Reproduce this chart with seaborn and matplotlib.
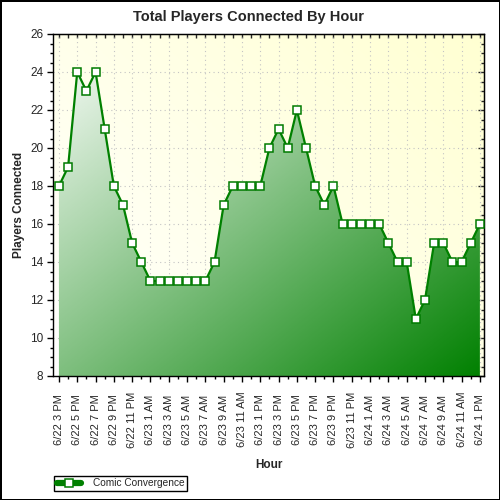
import matplotlib
matplotlib.use("Agg")
import matplotlib.pyplot as plt
import numpy as np
import pandas as pd
import seaborn as sns
from matplotlib.colors import LinearSegmentedColormap
from matplotlib.ticker import NullFormatter

# hourly player counts, 6/22 3 PM .. 6/24 1 PM
players = [18, 19, 24, 23, 24, 21, 18, 17, 15, 14,
           13, 13, 13, 13, 13, 13, 13, 14, 17, 18,
           18, 18, 18, 20, 21, 20, 22, 20, 18, 17,
           18, 16, 16, 16, 16, 16, 15, 14, 14, 11,
           12, 15, 15, 14, 14, 15, 16]

# one label every 2 hours
tick_labels = ["6/22 3 PM", "6/22 5 PM", "6/22 7 PM", "6/22 9 PM", "6/22 11 PM",
               "6/23 1 AM", "6/23 3 AM", "6/23 5 AM", "6/23 7 AM", "6/23 9 AM",
               "6/23 11 AM", "6/23 1 PM", "6/23 3 PM", "6/23 5 PM", "6/23 7 PM",
               "6/23 9 PM", "6/23 11 PM", "6/24 1 AM", "6/24 3 AM", "6/24 5 AM",
               "6/24 7 AM", "6/24 9 AM", "6/24 11 AM", "6/24 1 PM"]

series_name = "Comic Convergence"

df = pd.DataFrame({"hour": np.arange(len(players)), "players": players})

sns.set_style("ticks")
plt.rcParams["font.family"] = ["Liberation Sans", "DejaVu Sans"]

fig = plt.figure(figsize=(5, 5), dpi=100)
fig.patch.set_edgecolor("black")
fig.patch.set_linewidth(2)
ax = fig.add_axes([0.106, 0.248, 0.862, 0.684])

xlim = (-0.65, len(players) - 1 + 0.45)
ylim = (8, 26)
ax.set_xlim(xlim)
ax.set_ylim(ylim)

# plot area background: white -> pale yellow
gx, gy = np.meshgrid(np.linspace(0, 1, 300), np.linspace(0, 1, 300))
bg_cmap = LinearSegmentedColormap.from_list("bg", ["#ffffff", "#ffffd2"])
ax.imshow(0.55 * gx + 0.45 * (1 - gy), cmap=bg_cmap, vmin=0, vmax=1,
          extent=(*xlim, *ylim), aspect="auto", zorder=0)

# area under the line with a diagonal gradient
fill_cmap = LinearSegmentedColormap.from_list("fill", ["#ffffff", "#008000"])
poly = ax.fill_between(df["hour"], df["players"], ylim[0],
                       facecolor="none", edgecolor="none")
im = ax.imshow(0.5 * gx + 0.5 * gy, cmap=fill_cmap, vmin=0, vmax=1,
               extent=(*xlim, *ylim), aspect="auto", zorder=1)
im.set_clip_path(poly.get_paths()[0], transform=ax.transData)

sns.lineplot(data=df, x="hour", y="players", ax=ax, color="#008000",
             linewidth=1.6, marker="s", markersize=5.6,
             markerfacecolor="white", markeredgecolor="#007a00",
             markeredgewidth=1.1, label=series_name, legend=False, zorder=3)

ax.set_xlim(xlim)
ax.set_ylim(ylim)

# grid
ax.set_axisbelow(True)
ax.grid(True, which="major", color="#c4c4c4", linestyle=(0, (1, 3)), linewidth=0.8)

# ticks
ax.set_xticks(np.arange(0, len(players), 2), tick_labels)
ax.set_xticks(np.arange(0, len(players), 1), minor=True)
ax.set_yticks(np.arange(8, 27, 2))
ax.set_yticks(np.arange(8, 26.01, 0.5), minor=True)
ax.tick_params(which="major", direction="out", length=4, width=1, color="black")
ax.tick_params(which="minor", direction="out", length=2, width=1, color="black")
ax.tick_params(axis="y", labelsize=8.5, pad=3)
ax.tick_params(axis="x", labelsize=8, labelrotation=90, pad=27.4)
for lbl in ax.get_xticklabels():
    lbl.set_verticalalignment("center")

top = ax.secondary_xaxis("top")
top.set_xticks(np.arange(0, len(players), 1))
top.xaxis.set_major_formatter(NullFormatter())
top.tick_params(direction="in", length=3, width=1)

right = ax.secondary_yaxis("right")
right.set_yticks(np.arange(8, 27, 2))
right.set_yticks(np.arange(8, 26.01, 0.5), minor=True)
right.yaxis.set_major_formatter(NullFormatter())
right.tick_params(which="major", direction="in", length=4, width=1)
right.tick_params(which="minor", direction="in", length=2, width=1)

for s in ax.spines.values():
    s.set_color("black")
    s.set_linewidth(1)

# title is centred on the whole figure
fig.suptitle("Total Players Connected By Hour", x=0.497, y=0.966,
             fontsize=10.5, fontweight="bold", va="center")
ax.set_ylabel("Players Connected", fontsize=8.5, fontweight="bold", labelpad=3.5)
ax.set_xlabel("Hour", fontsize=8.5, fontweight="bold", labelpad=8)

handles, labels = ax.get_legend_handles_labels()
leg = fig.legend(handles, labels, loc="lower left", bbox_to_anchor=(0.108, 0.018),
                 fontsize=7.3, frameon=True, fancybox=False, edgecolor="black",
                 framealpha=1, borderpad=0.25, handlelength=2.4,
                 handletextpad=1.2, borderaxespad=0)
leg.get_frame().set_linewidth(1)
for ln in leg.get_lines():
    ln.set_linewidth(4.5)

fig.savefig("out.png", dpi=100, edgecolor=fig.get_edgecolor())
